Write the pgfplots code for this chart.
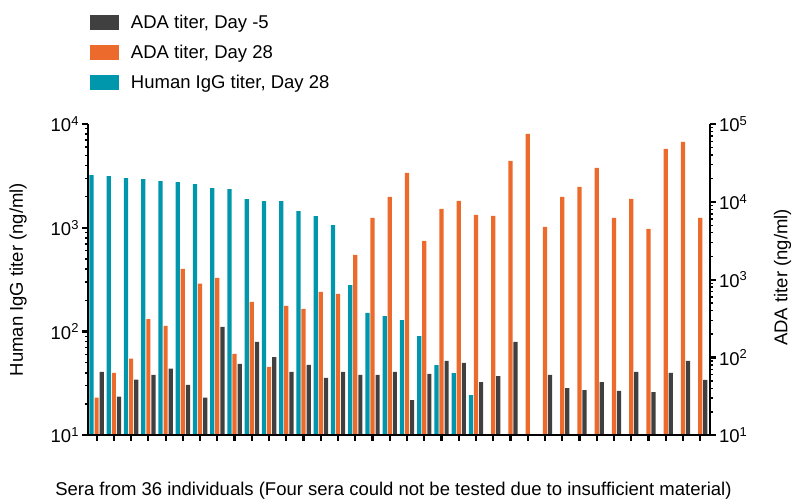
\documentclass[border=0pt]{standalone}
\usepackage{fontspec}
\setmainfont{Liberation Sans}
\usepackage{pgfplots}
\pgfplotsset{compat=1.18}
\definecolor{cdark}{HTML}{404040}
\definecolor{corange}{HTML}{EC6A2B}
\definecolor{cteal}{HTML}{0097AC}
\newcommand\fs{\fontsize{18.5bp}{21bp}\selectfont}
\pgfplotsset{
  myaxis/.style={
    scale only axis, width=622bp, height=311.3bp,
    at={(0,0)}, anchor=south west,
    xmin=0.5, xmax=36.57,
    tick align=outside,
    major tick length=5.5bp, minor tick length=3bp,
    every major tick/.append style={line width=2.2bp, black},
    every minor tick/.append style={line width=1.4bp, black},
    axis line style={line width=2.3bp, black},
    tick label style={font=\fs},
    label style={font=\fs},
    yticklabel={10\textsuperscript{\pgfmathparse{int(round(\tick))}\pgfmathresult}},
    axis on top,
    clip=true,
  }
}
\begin{document}
\begin{tikzpicture}
\begin{axis}[ymode=log, log basis y=10, myaxis,
  axis y line*=left, axis x line=none,
  ymin=10, ymax=10000,
  ylabel={Human IgG titer (ng/ml)},
  ylabel style={at={(axis description cs:-0.1125,0.5)}, anchor=center, rotate=0},
]
\addplot[ybar, bar width=4.2bp, bar shift=-5.1bp, fill=cteal, draw=none] coordinates {
(1,3220) (2,3150) (3,3010) (4,2945) (5,2818) (6,2754) (7,2636) (8,2411) (9,2358)
(10,1888) (11,1806) (12,1806) (13,1448) (14,1297) (15,1062) (16,280) (17,151)
(18,141) (19,129) (20,90.5) (21,47.5) (22,39.8) (23,24.4)
};
\end{axis}
\begin{axis}[ymode=log, log basis y=10, myaxis,
  axis y line*=right, axis x line*=bottom,
  ymin=10, ymax=100000,
  xtick={1,...,36}, xticklabels={},
  ylabel={ADA titer (ng/ml)},
  ylabel style={at={(axis description cs:1.1166,0.507)}, anchor=center, rotate=0},
  xlabel={Sera from 36 individuals (Four sera could not be tested due to insufficient material)},
  xlabel style={at={(axis description cs:0.491,-0.177)}, anchor=center},
  legend image code/.code={\fill[#1] (0bp,-7.5bp) rectangle (29bp,7.5bp); \path (41bp,0bp);},
  legend cell align=left,
  legend style={at={(axis description cs:0.0032,1.355)}, anchor=north west,
    draw=none, fill=none, inner sep=0pt, outer sep=0pt, row sep=12bp, font=\fs,
    nodes={inner sep=0pt, text height=15bp, text depth=3bp}},
]
\addlegendimage{fill=cdark, draw=none}
\addlegendentry{ADA titer, Day -5}
\addlegendimage{fill=corange, draw=none}
\addlegendentry{ADA titer, Day 28}
\addlegendimage{fill=cteal, draw=none}
\addlegendentry{Human IgG titer, Day 28}
\addplot[ybar, bar width=4.2bp, bar shift=0bp, fill=corange, draw=none, forget plot] coordinates {
(1,30.4) (2,63.2) (3,96.5) (4,312) (5,254) (6,1372) (7,889) (8,1052) (9,111)
(10,517) (11,75.5) (12,459) (13,420) (14,695) (15,655) (16,2078) (17,6210)
(18,11560) (19,23500) (20,3143) (21,8110) (22,10280) (23,6790) (24,6590)
(25,33570) (26,74600) (27,4760) (28,11560) (29,15550) (30,27290) (31,6210)
(32,10900) (33,4485) (34,47860) (35,58900) (36,6210)
};
\addplot[ybar, bar width=4.2bp, bar shift=5.1bp, fill=cdark, draw=none, forget plot] coordinates {
(1,65.1) (2,31.3) (3,51.8) (4,59.6) (5,71.8) (6,44.3) (7,30.4) (8,246.6) (9,82.5)
(10,158.3) (11,101.4) (12,65.1) (13,80.1) (14,54.5) (15,65.1) (16,59.6) (17,59.6)
(18,65.1) (19,28.4) (20,61.4) (21,90.2) (22,85.0) (23,48.4) (24,57.8) (25,158.3)
(27,59.6) (28,40.5) (29,38.2) (30,48.4) (31,37.1) (32,65.1) (33,36.0) (34,63.2)
(35,90.2) (36,51.4)
};
\end{axis}
\pgfresetboundingbox
\path[use as bounding box] (-88bp,-66.7bp) rectangle (707bp,435.3bp);
\end{tikzpicture}
\end{document}
